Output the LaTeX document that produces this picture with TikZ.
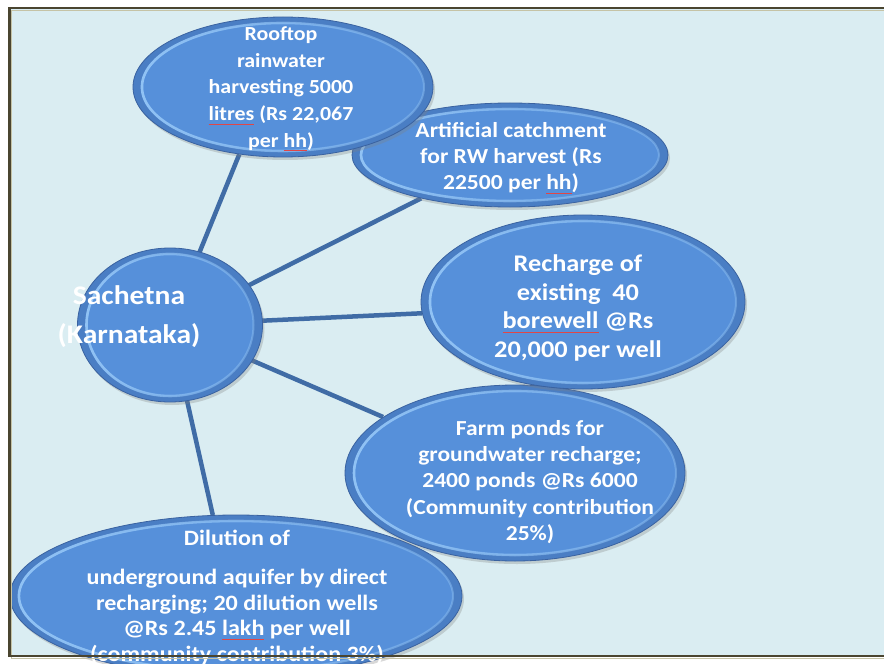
\documentclass[tikz,border=0pt]{standalone}
\usepackage{fontspec}
\setmainfont{Carlito}[FakeStretch=1.1]
\usetikzlibrary{shapes.geometric,shadows,backgrounds,calc,fadings}
\definecolor{bgblue}{HTML}{DAEDF2}
\definecolor{framedark}{HTML}{4A4530}
\definecolor{frametan}{HTML}{C5C3A6}
\definecolor{bfill}{RGB}{86,144,218}
\definecolor{bband}{RGB}{74,126,196}
\definecolor{brim}{RGB}{145,195,245}
\definecolor{bedge}{RGB}{58,98,160}
\definecolor{linkblue}{RGB}{64,108,166}
\definecolor{spellred}{RGB}{225,70,70}
\newcommand\spellmark[1]{\setbox0\hbox{#1}\rlap{\textcolor{spellred}{\rule[-4pt]{\wd0}{0.7bp}}}\copy0\relax}
\tikzset{
  bubble/.style={ellipse, inner sep=0pt, fill=bband, draw=bedge, line width=0.8bp,
    drop shadow={opacity=0.3, shadow xshift=2bp, shadow yshift=-3bp},
    path picture={
      \path let \p1=(path picture bounding box.north east), \p2=(path picture bounding box.center) in
        [fill=bfill, draw=brim, line width=2bp, draw opacity=0.45]
        (\p2) ellipse [x radius={\x1-\x2-9bp}, y radius={\y1-\y2-6bp}];
      \path let \p1=(path picture bounding box.north east), \p2=(path picture bounding box.center) in
        [draw=brim, line width=2.6bp, path fading=east]
        (\p2) ellipse [x radius={\x1-\x2-9bp}, y radius={\y1-\y2-6bp}];
    }},
  btext/.style={text=white, font=\bfseries\fontsize{21.5}{26.3}\selectfont, align=center, inner sep=0pt},
  link/.style={linkblue, line width=4.5bp}
}
\begin{document}
\begin{tikzpicture}[x=1bp,y=-1bp]
\path[use as bounding box] (0,0) rectangle (884,664);
\clip (0,0) rectangle (884,664);
% bubbles
\node[bubble, minimum width=452bp, minimum height=162bp] (dil) at (236,596) {};
\node[bubble, minimum width=340bp, minimum height=176bp] (farm) at (515,473) {};
\node[bubble, minimum width=324bp, minimum height=174bp] (rech) at (583,302) {};
\node[bubble, minimum width=316bp, minimum height=104bp] (art) at (510,155) {};
\node[bubble, minimum width=300bp, minimum height=140bp] (roof) at (283,87) {};
\node[bubble, minimum width=185bp, minimum height=154bp] (sach) at (170,325) {};
% background and links
\begin{pgfonlayer}{background}
\fill[white] (0,0) rectangle (884,664);
\fill[bgblue] (10,8) rectangle (890,656);
\draw[link] (sach.center) -- (roof.237);
\draw[link] (sach.center) -- (art.206);
\draw[link] (sach.center) -- (rech.184.5);
\draw[link] (sach.center) -- (farm.157);
\draw[link] (sach.center) -- (dil.106.5);
\end{pgfonlayer}
% texts
\node[btext, font=\bfseries\fontsize{20}{26.7}\selectfont] (roofT) at (281,89) {Rooftop\\ rainwater\\ harvesting 5000\\ \spellmark{litres} (Rs 22,067\\ per \spellmark{hh})};
\node[btext] (artT) at (511,158) {Artificial catchment\\ for RW harvest (Rs\\ 22500 per \spellmark{hh})};
\node[btext, font=\bfseries\fontsize{24}{29}\selectfont] (rechT) at (578,308) {Recharge of\\ existing~~40\\ \spellmark{borewell} @Rs\\ 20,000 per well};
\node[btext] (farmT) at (530,482) {Farm ponds for\\ groundwater recharge;\\ 2400 ponds @Rs 6000\\ (Community contribution\\ 25\%)};
\node[btext, anchor=north, font=\bfseries\fontsize{22}{25.8}\selectfont] (dilT) at (237,530) {Dilution of\\[13bp] underground aquifer by direct\\ recharging; 20 dilution wells\\ @Rs 2.45 \spellmark{lakh} per well\\ (community contribution 3\%)};
\node[btext, font=\bfseries\fontsize{27}{39}\selectfont] (sachT) at (129,317) {Sachetna\\ (Karnataka)};
% frame border
\draw[frametan, line width=0.9bp] (890,10) -- (11.5,10) -- (11.5,658) -- (890,658);
\draw[framedark, line width=2.4bp] (890,8) -- (9.5,8) -- (9.5,656) -- (890,656);
\end{tikzpicture}
\end{document}
